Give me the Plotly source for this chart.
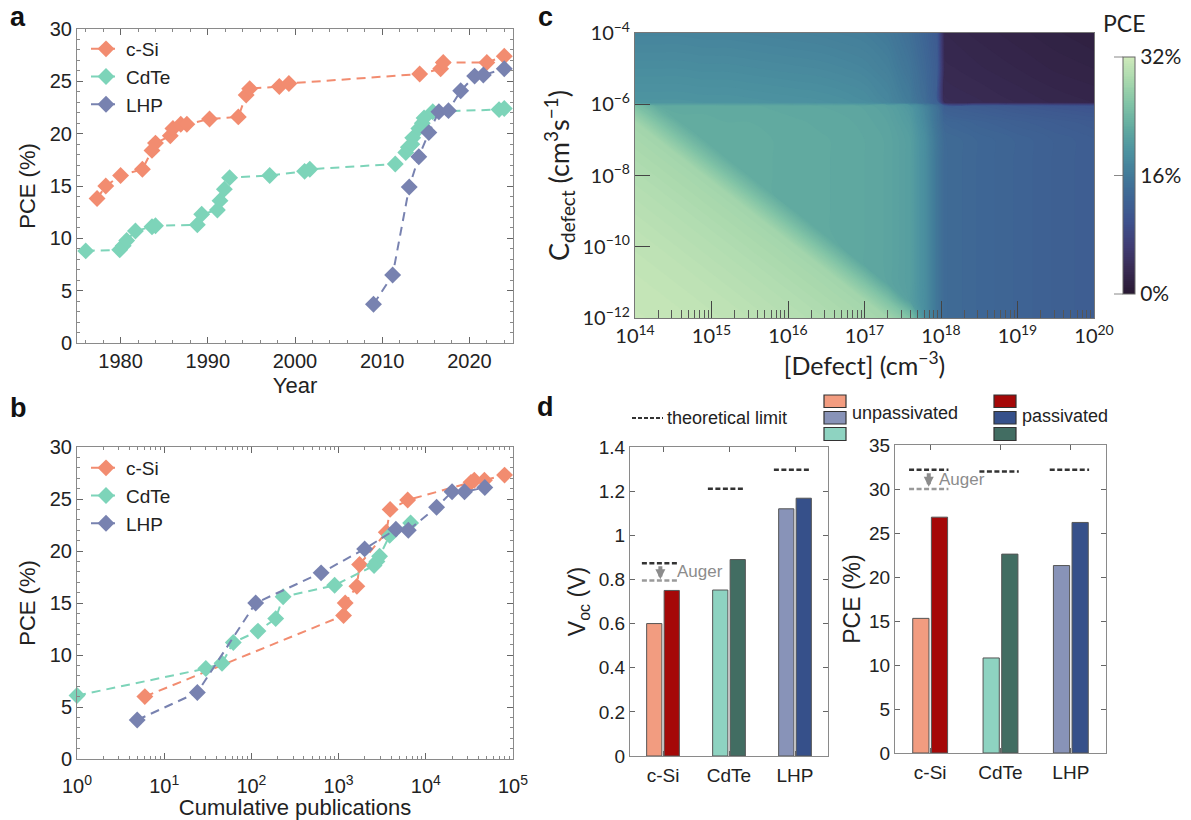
import plotly.graph_objects as go

W, H = 1191, 820

# ---------------- data: panel a (PCE vs year) ----------------
series_names = ["c-Si", "CdTe", "LHP"]

csi_year = [1977.3, 1978.3, 1980.0, 1982.5, 1983.6, 1984.0, 1985.7, 1986.0, 1986.9, 1987.6,
            1990.2, 1993.5, 1994.4, 1994.8, 1998.2, 1999.3, 2014.3, 2016.7, 2017.0, 2022.0, 2024.0]
csi_pce_a = [13.8, 15.0, 16.0, 16.6, 18.4, 19.1, 19.8, 20.5, 20.9, 20.9,
             21.4, 21.6, 23.7, 24.3, 24.5, 24.8, 25.7, 26.2, 26.8, 26.8, 27.4]

cdte_year = [1976.0, 1979.9, 1980.3, 1980.7, 1981.7, 1983.6, 1984.0, 1988.8, 1989.3, 1991.1,
             1991.4, 1991.9, 1992.5, 1997.1, 2001.1, 2001.7, 2011.5, 2012.7, 2013.0, 2013.4,
             2013.5, 2014.2, 2014.6, 2014.8, 2015.8, 2023.4, 2024.0]
cdte_pce_a = [8.8, 8.9, 9.3, 9.8, 10.7, 11.1, 11.2, 11.3, 12.3, 12.7,
              13.6, 14.7, 15.8, 16.0, 16.4, 16.6, 17.1, 18.2, 18.7, 19.0,
              19.6, 20.5, 21.0, 21.5, 22.1, 22.3, 22.4]

lhp_year = [2009.0, 2011.2, 2013.1, 2014.2, 2015.35, 2016.5, 2017.6, 2019.0, 2020.6, 2021.6, 2024.0]
lhp_pce_a = [3.7, 6.5, 14.9, 17.8, 20.1, 22.1, 22.2, 24.1, 25.5, 25.6, 26.2]

# ---------------- data: panel b (PCE vs cumulative publications) ----------------
csi_pubs = [6, 1140, 1190, 1620, 1740, 3520, 3900, 6200, 33000, 36000, 47000, 80000]
csi_pce_b = [6.0, 13.8, 15.0, 16.6, 18.7, 21.8, 24.0, 24.9, 26.6, 26.8, 26.8, 27.3]

cdte_pubs = [1, 30, 46, 62, 119, 190, 231, 900, 2550, 2750, 2950, 3850, 6700]
cdte_pce_b = [6.1, 8.7, 9.2, 11.2, 12.3, 13.5, 15.6, 16.7, 18.6, 19.0, 19.5, 21.5, 22.7]

lhp_pubs = [4.9, 24, 112, 630, 1990, 4540, 6300, 13300, 20000, 27800, 47500]
lhp_pce_b = [3.75, 6.4, 15.0, 17.9, 20.2, 22.1, 22.0, 24.2, 25.7, 25.7, 26.1]

pub_tickvals = [1, 10, 100, 1000, 10000, 100000]
pub_ticktext = ["10<sup>0</sup>", "10<sup>1</sup>", "10<sup>2</sup>",
                "10<sup>3</sup>", "10<sup>4</sup>", "10<sup>5</sup>"]

# ---------------- data: panel c (PCE map) ----------------
# grid nodes (log10 of [Defect] and of C_defect)
defect_log = [14.0, 14.3, 14.6, 14.9, 15.2, 15.5, 15.8, 16.1, 16.4, 16.7,
              17.0, 17.3, 17.6, 17.8, 17.95, 18.05, 18.5, 19.0, 19.5, 20.0]
cdefect_log = [-12, -11.5, -11, -10.5, -10, -9.5, -9, -8.5, -8, -7.5, -7, -6.5, -6.05,
               -5.95, -5, -4]
# column at which the light wedge ends, for each of the lower 13 rows
wedge_end_col = [12, 11, 10, 9, 8, 7, 6, 5, 4, 3, 2, 1, 0]
# PCE inside the light wedge, by columns away from its edge
wedge_pce = [25.5, 28.3, 28.8, 29.2, 29.6, 29.9, 30.2, 30.5, 30.7, 30.9, 31.1, 31.2, 31.3]
# PCE outside the wedge, below C = 1e-6
lower_pce = [22.8, 22.8, 22.7, 22.7, 22.6, 22.6, 22.5, 22.4, 22.3, 22.2,
             22.0, 21.7, 20.8, 18.5, 15.5, 13.8, 13.2, 12.7, 12.2, 11.8]
lower_pce_m65 = [22.7, 22.7, 22.6, 22.6, 22.5, 22.5, 22.4, 22.3, 22.2, 22.1,
                 21.9, 21.5, 20.4, 17.9, 15.0, 13.2, 12.6, 12.1, 11.7, 11.3]
lower_pce_m605 = [22.5, 22.5, 22.4, 22.4, 22.3, 22.3, 22.2, 22.1, 22.0, 21.9,
                  21.7, 21.2, 19.8, 17.2, 14.5, 12.0, 11.5, 11.0, 10.6, 10.3]
# PCE above C = 1e-6
upper_pce_m595 = [19.6, 19.6, 19.6, 19.5, 19.5, 19.4, 19.3, 19.2, 19.1, 18.9,
                  18.6, 17.8, 16.2, 14.2, 12.3, 3.6, 3.3, 3.0, 2.7, 2.5]
upper_pce_m5 = [18.5, 18.5, 18.5, 18.4, 18.4, 18.3, 18.2, 18.1, 18.0, 17.8,
                17.5, 16.8, 15.2, 13.4, 11.8, 3.1, 2.8, 2.5, 2.2, 2.0]
upper_pce_m4 = [17.4, 17.4, 17.4, 17.3, 17.3, 17.2, 17.1, 17.0, 16.9, 16.7,
                16.5, 15.9, 14.4, 12.8, 11.3, 2.7, 2.4, 2.1, 1.8, 1.5]

defect_tickvals = [14, 15, 16, 17, 18, 19, 20]
defect_ticktext = ["10<sup>%d</sup>" % v for v in defect_tickvals]
cdefect_tickvals = [-12, -10, -8, -6, -4]
cdefect_ticktext = ["10<sup>\u2212%d</sup>" % (-v) for v in cdefect_tickvals]
cbar_tickvals = [0, 16, 32]
cbar_ticktext = ["0%", "16%", "32%"]

# ---------------- data: panel d (bars) ----------------
categories = ["c-Si", "CdTe", "LHP"]
voc_unpass = [0.60, 0.752, 1.12]
voc_pass = [0.75, 0.89, 1.168]
pce_unpass = [15.3, 10.8, 21.3]
pce_pass = [26.8, 22.6, 26.2]
voc_limit = [0.873, 1.211, 1.297]
voc_auger_limit = 0.795
pce_limit = [32.2, 32.0, 32.2]
pce_auger_limit = 30.0

# ---------------- build the map table ----------------
pce_map = []
lower_rows = [lower_pce] * 11 + [lower_pce_m65, lower_pce_m605]
for r, end_col in enumerate(wedge_end_col):
    row = []
    for c in range(len(defect_log)):
        if c <= end_col:
            row.append(wedge_pce[end_col - c])
        else:
            row.append(lower_rows[r][c])
    pce_map.append(row)
pce_map += [upper_pce_m595, upper_pce_m5, upper_pce_m4]

# ---------------- styles ----------------
FONT = "Liberation Sans, Arial, sans-serif"
HUMAN = "Lato, Open Sans, sans-serif"

line_colors = {"c-Si": "#f28c70", "CdTe": "#7dd4b9", "LHP": "#7882b0"}
unpass_colors = ["#f29c80", "#8ed3c1", "#8893b8"]
pass_colors = ["#a50808", "#426d62", "#36508a"]

deep_scale = [
    [0.00, "rgb(40,24,50)"],
    [0.10, "rgb(56,42,82)"],
    [0.20, "rgb(64,60,115)"],
    [0.30, "rgb(62,80,140)"],
    [0.40, "rgb(62,100,148)"],
    [0.50, "rgb(66,122,153)"],
    [0.60, "rgb(76,146,160)"],
    [0.70, "rgb(97,170,160)"],
    [0.80, "rgb(128,195,166)"],
    [0.90, "rgb(168,216,173)"],
    [1.00, "rgb(206,234,187)"],
]


def px_x(p):
    return p / W


def px_y(p):
    return 1 - p / H


fig = go.Figure()

# ---- panel a & b traces ----
a_data = [(csi_year, csi_pce_a), (cdte_year, cdte_pce_a), (lhp_year, lhp_pce_a)]
b_data = [(csi_pubs, csi_pce_b), (cdte_pubs, cdte_pce_b), (lhp_pubs, lhp_pce_b)]
for name, (xs, ys) in zip(series_names, a_data):
    fig.add_trace(go.Scatter(
        x=xs, y=ys, mode="lines+markers", name=name, legend="legend",
        line=dict(color=line_colors[name], width=2, dash="9px,6px"),
        marker=dict(symbol="diamond", size=13, color=line_colors[name]),
        xaxis="x", yaxis="y", cliponaxis=False))
for name, (xs, ys) in zip(series_names, b_data):
    fig.add_trace(go.Scatter(
        x=xs, y=ys, mode="lines+markers", name=name, legend="legend2",
        line=dict(color=line_colors[name], width=2, dash="9px,6px"),
        marker=dict(symbol="diamond", size=13, color=line_colors[name]),
        xaxis="x2", yaxis="y2", cliponaxis=False))

# ---- panel c contour ----
fig.add_trace(go.Contour(
    x=defect_log, y=cdefect_log, z=pce_map, xaxis="x3", yaxis="y3",
    colorscale=deep_scale, zauto=False, zmin=0, zmax=32,
    contours=dict(start=0, end=32, size=0.25, coloring="fill", showlines=False),
    line=dict(width=0),
    showlegend=False, hoverinfo="skip",
    colorbar=dict(
        x=px_x(1123), xanchor="left", y=px_y((57 + 294) / 2), yanchor="middle",
        thickness=12, thicknessmode="pixels", len=237, lenmode="pixels",
        tickvals=cbar_tickvals, ticktext=cbar_ticktext, ticks="",
        tickfont=dict(family=HUMAN, size=21, color="#222"),
        outlinewidth=1, outlinecolor="#666", xpad=0, ypad=0)))

# ---- panel d bars ----
cat_idx = list(range(len(categories)))
fig.add_trace(go.Bar(x=cat_idx, y=voc_unpass, xaxis="x4", yaxis="y4", showlegend=False,
                     marker=dict(color=unpass_colors, line=dict(color="#555", width=1))))
fig.add_trace(go.Bar(x=cat_idx, y=voc_pass, xaxis="x4", yaxis="y4", showlegend=False,
                     marker=dict(color=pass_colors, line=dict(color="#555", width=1))))
fig.add_trace(go.Bar(x=cat_idx, y=pce_unpass, xaxis="x5", yaxis="y5", showlegend=False,
                     marker=dict(color=unpass_colors, line=dict(color="#555", width=1))))
fig.add_trace(go.Bar(x=cat_idx, y=pce_pass, xaxis="x5", yaxis="y5", showlegend=False,
                     marker=dict(color=pass_colors, line=dict(color="#555", width=1))))


def limit_segments(values, left=0.32, right=0.24):
    xs, ys = [], []
    for i, v in enumerate(values):
        xs += [i - left, i + right, None]
        ys += [v, v, None]
    return xs, ys


lx, ly = limit_segments(voc_limit)
fig.add_trace(go.Scatter(x=lx, y=ly, mode="lines", xaxis="x4", yaxis="y4", showlegend=False,
                         line=dict(color="#333", width=2.5, dash="5px,2.5px"), hoverinfo="skip"))
lx, ly = limit_segments([voc_auger_limit])
fig.add_trace(go.Scatter(x=lx, y=ly, mode="lines", xaxis="x4", yaxis="y4", showlegend=False,
                         line=dict(color="#9a9a9a", width=2.5, dash="5px,2.5px"), hoverinfo="skip"))
lx, ly = limit_segments(pce_limit, 0.3, 0.26)
fig.add_trace(go.Scatter(x=lx, y=ly, mode="lines", xaxis="x5", yaxis="y5", showlegend=False,
                         line=dict(color="#333", width=2.5, dash="5px,2.5px"), hoverinfo="skip"))
lx, ly = limit_segments([pce_auger_limit], 0.3, 0.26)
fig.add_trace(go.Scatter(x=lx, y=ly, mode="lines", xaxis="x5", yaxis="y5", showlegend=False,
                         line=dict(color="#9a9a9a", width=2.5, dash="5px,2.5px"), hoverinfo="skip"))

# ---------------- axes ----------------
tickfont = dict(family=FONT, size=20, color="#222")
titlefont = dict(family=FONT, size=22, color="#222")
dfont = dict(family=FONT, size=19, color="#222")
frame = dict(showline=True, linecolor="#8a8a8a", linewidth=1, mirror="ticks", ticks="inside",
             tickcolor="#666", ticklen=6, showgrid=False, zeroline=False, tickfont=tickfont)

layout = dict(
    width=W, height=H, margin=dict(l=0, r=0, t=0, b=0, autoexpand=False),
    paper_bgcolor="white", plot_bgcolor="white",
    barmode="group", bargap=0.47, bargroupgap=0.13,
    xaxis=dict(frame, domain=[px_x(77), px_x(513)], anchor="y", range=[1975, 2025],
               tick0=1980, dtick=10,
               minor=dict(dtick=2, ticks="inside", ticklen=3, tickcolor="#888"),
               title=dict(text="Year", font=titlefont, standoff=6)),
    yaxis=dict(frame, domain=[px_y(343), px_y(29)], anchor="x", range=[0, 30], dtick=5,
               minor=dict(dtick=1, ticks="inside", ticklen=3, tickcolor="#888"),
               title=dict(text="PCE (%)", font=titlefont, standoff=8)),
    xaxis2=dict(frame, domain=[px_x(77), px_x(513)], anchor="y2", type="log", range=[0, 5],
                tickvals=pub_tickvals, ticktext=pub_ticktext, ticklabelstandoff=9,
                minor=dict(tickvals=[k * 10 ** n for n in range(5) for k in range(2, 10)],
                           ticks="inside", ticklen=3, tickcolor="#888"),
                title=dict(text="Cumulative publications", font=titlefont, standoff=9)),
    yaxis2=dict(frame, domain=[px_y(759), px_y(447)], anchor="x2", range=[0, 30], dtick=5,
                minor=dict(dtick=1, ticks="inside", ticklen=3, tickcolor="#888"),
                title=dict(text="PCE (%)", font=titlefont, standoff=8)),
    xaxis3=dict(domain=[px_x(635), px_x(1094)], anchor="y3", range=[14, 20],
                showline=True, linecolor="#777", linewidth=1, mirror=True,
                ticks="inside", ticklen=17, tickcolor="#444", showgrid=False, zeroline=False,
                tickvals=defect_tickvals, ticktext=defect_ticktext,
                tickfont=dict(family=HUMAN, size=20, color="#222"),
                minor=dict(tickvals=[n + lg for n in range(14, 20)
                                     for lg in (0.30103, 0.47712, 0.60206, 0.69897,
                                                0.77815, 0.84510, 0.90309, 0.95424)],
                           ticks="inside", ticklen=8, tickcolor="#555"),
                title=dict(text="[Defect] (cm<sup>\u22123</sup>)",
                           font=dict(family=HUMAN, size=25, color="#222"), standoff=0)),
    yaxis3=dict(domain=[px_y(318), px_y(33)], anchor="x3", range=[-12, -4],
                showline=True, linecolor="#777", linewidth=1, mirror=True,
                ticks="inside", ticklen=15, tickcolor="#444", showgrid=False, zeroline=False,
                tickvals=cdefect_tickvals, ticktext=cdefect_ticktext,
                tickfont=dict(family=HUMAN, size=20, color="#222"),
                title=dict(text="C<sub>defect</sub> (cm<sup>3</sup>s<sup>\u22121</sup>)",
                           font=dict(family=HUMAN, size=27, color="#222"), standoff=4)),
    xaxis4=dict(frame, domain=[px_x(630), px_x(828)], anchor="y4", range=[-0.5, 2.5],
                tickvals=cat_idx, ticktext=categories, ticklen=5, ticklabelstandoff=2,
                tickfont=dfont),
    yaxis4=dict(frame, domain=[px_y(756), px_y(447)], anchor="x4", range=[0, 1.4], dtick=0.2,
                ticklen=5, tickfont=dfont,
                title=dict(text="V<sub>oc</sub> (V)", font=dict(family=FONT, size=23, color="#222"),
                           standoff=6)),
    xaxis5=dict(frame, domain=[px_x(895), px_x(1106)], anchor="y5", range=[-0.5, 2.5],
                tickvals=cat_idx, ticktext=categories, ticklen=5, ticklabelstandoff=2,
                tickfont=dfont),
    yaxis5=dict(frame, domain=[px_y(753), px_y(445)], anchor="x5", range=[0, 35], dtick=5,
                ticklen=5, tickfont=dfont,
                title=dict(text="PCE (%)", font=dict(family=FONT, size=23, color="#222"),
                           standoff=2)),
    legend=dict(x=px_x(86), y=px_y(30), xanchor="left", yanchor="top", bgcolor="rgba(0,0,0,0)",
                font=dict(family=FONT, size=19, color="#222"), itemwidth=30, tracegroupgap=0),
    legend2=dict(x=px_x(86), y=px_y(449), xanchor="left", yanchor="top", bgcolor="rgba(0,0,0,0)",
                 font=dict(family=FONT, size=19, color="#222"), itemwidth=30, tracegroupgap=0),
)
fig.update_layout(**layout)

# ---------------- annotations ----------------
ann = []
for letter, (lx_, ly_) in {"a": (18, 17), "b": (18, 408), "c": (545, 17), "d": (545, 407)}.items():
    ann.append(dict(text="<b>%s</b>" % letter, x=px_x(lx_), y=px_y(ly_), xref="paper", yref="paper",
                    showarrow=False, xanchor="center", yanchor="middle",
                    font=dict(family=FONT, size=27, color="#111")))
ann.append(dict(text="PCE", x=px_x(1124), y=px_y(23), xref="paper", yref="paper", showarrow=False,
                xanchor="center", yanchor="middle", font=dict(family=HUMAN, size=23, color="#222")))
# panel d legend texts
ann.append(dict(text="theoretical limit", x=px_x(665), y=px_y(418), xref="paper", yref="paper",
                showarrow=False, xanchor="left", yanchor="middle",
                font=dict(family=FONT, size=18, color="#222")))
ann.append(dict(text="unpassivated", x=px_x(850), y=px_y(413), xref="paper", yref="paper",
                showarrow=False, xanchor="left", yanchor="middle",
                font=dict(family=FONT, size=18, color="#222")))
ann.append(dict(text="passivated", x=px_x(1020), y=px_y(416), xref="paper", yref="paper",
                showarrow=False, xanchor="left", yanchor="middle",
                font=dict(family=FONT, size=18, color="#222")))
# Auger arrows and labels
ann.append(dict(x=-0.04, y=voc_auger_limit + 0.006, ax=-0.04, ay=voc_limit[0] - 0.006,
                xref="x4", yref="y4", axref="x4", ayref="y4", text="", showarrow=True,
                arrowhead=2, arrowsize=0.5, arrowwidth=4, arrowcolor="#8c8c8c"))
ann.append(dict(text="Auger", x=0.18, y=0.835, xref="x4", yref="y4", showarrow=False,
                xanchor="left", yanchor="middle", font=dict(family=FONT, size=17, color="#8c8c8c")))
ann.append(dict(x=-0.02, y=pce_auger_limit + 0.25, ax=-0.02, ay=pce_limit[0] - 0.25,
                xref="x5", yref="y5", axref="x5", ayref="y5", text="", showarrow=True,
                arrowhead=2, arrowsize=0.5, arrowwidth=4, arrowcolor="#8c8c8c"))
ann.append(dict(text="Auger", x=0.1, y=31.1, xref="x5", yref="y5", showarrow=False,
                xanchor="left", yanchor="middle", font=dict(family=FONT, size=17, color="#8c8c8c")))
fig.update_layout(annotations=ann)

# ---------------- legend swatches (panel d) and colourbar tick marks ----------------
shapes = [dict(type="line", xref="paper", yref="paper", x0=px_x(632), x1=px_x(663),
               y0=px_y(418), y1=px_y(418), line=dict(color="#333", width=2, dash="4px,2px"))]
rows_px = [(395, 407.5), (411.5, 424), (427.5, 440.5)]
unpass_stack = [unpass_colors[0], unpass_colors[2], unpass_colors[1]]
pass_stack = [pass_colors[0], pass_colors[2], pass_colors[1]]
for (y0, y1), c in zip(rows_px, unpass_stack):
    shapes.append(dict(type="rect", xref="paper", yref="paper", x0=px_x(824), x1=px_x(846),
                       y0=px_y(y1), y1=px_y(y0), fillcolor=c, line=dict(color="#333", width=1.2)))
for (y0, y1), c in zip(rows_px, pass_stack):
    shapes.append(dict(type="rect", xref="paper", yref="paper", x0=px_x(994), x1=px_x(1016),
                       y0=px_y(y1), y1=px_y(y0), fillcolor=c, line=dict(color="#333", width=1.2)))
cb_top, cb_bot = 57, 294
for v in cbar_tickvals:
    yy = cb_bot - (cb_bot - cb_top) * v / 32.0
    shapes.append(dict(type="line", xref="paper", yref="paper", x0=px_x(1114), x1=px_x(1123),
                       y0=px_y(yy), y1=px_y(yy), line=dict(color="#888", width=1)))
fig.update_layout(shapes=shapes)

fig.write_html("out.html", config={"displayModeBar": False},
               post_script="document.body.style.margin='0';")
